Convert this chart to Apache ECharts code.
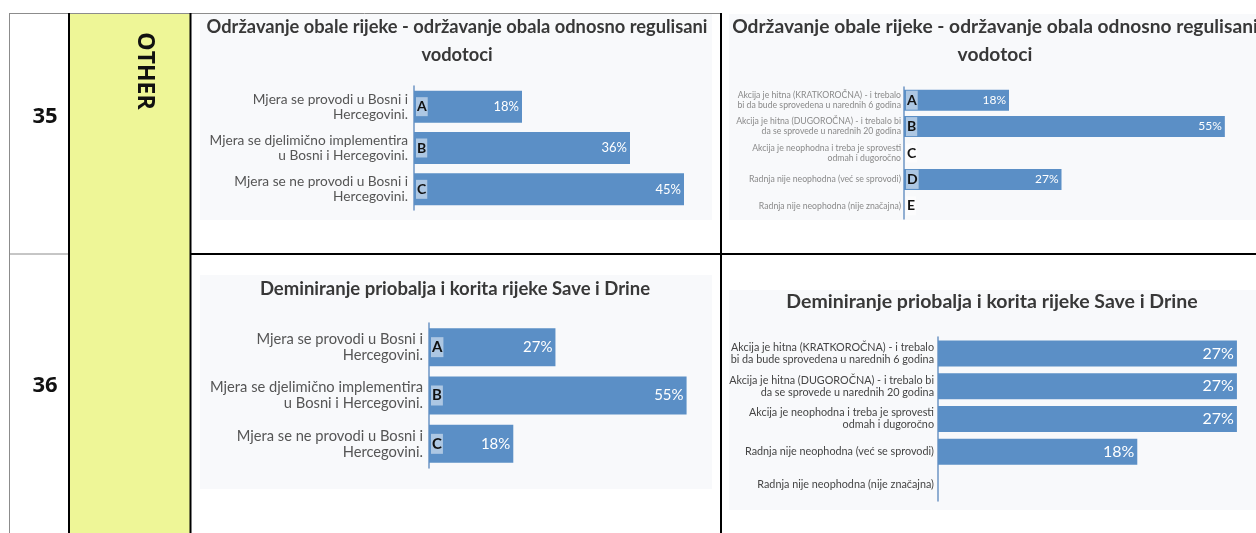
<!DOCTYPE html>
<html>
<head>
<meta charset="utf-8">
<script src="https://cdn.jsdelivr.net/npm/echarts@6/dist/echarts.min.js"></script>
<style>
  html, body { margin: 0; padding: 0; background: #fff; }
  #chart { width: 1256px; height: 533px; }
</style>
</head>
<body>
<div id="chart"></div>
<script>
// podaci — procijenjeno sa slike
const rowNumbers = ['35', '36']
const groupLabel = 'OTHER'

const titleTop = 'Održavanje obale rijeke - održavanje obala odnosno regulisani\nvodotoci'
const titleBottom = 'Deminiranje priobalja i korita rijeke Save i Drine'

const mjeraCategories = [
  'Mjera se provodi u Bosni i\nHercegovini.',
  'Mjera se djelimično implementira\nu Bosni i Hercegovini.',
  'Mjera se ne provodi u Bosni i\nHercegovini.',
]
const mjeraLetters = ['A', 'B', 'C']

const akcijaCategories = [
  'Akcija je hitna (KRATKOROČNA) - i trebalo\nbi da bude sprovedena u narednih 6 godina',
  'Akcija je hitna (DUGOROČNA) - i trebalo bi\nda se sprovede u narednih 20 godina',
  'Akcija je neophodna i treba je sprovesti\nodmah i dugoročno',
  'Radnja nije neophodna (već se sprovodi)',
  'Radnja nije neophodna (nije značajna)',
]
const akcijaLetters = ['A', 'B', 'C', 'D', 'E']

const row35Mjera = [18, 36, 45]
const row35Akcija = [18, 55, 0, 27, 0]
const row36Mjera = [27, 55, 18]
const row36Akcija = [27, 27, 27, 18, 0]

const BAR = '#5b8fc6'
const AXIS = '#6e95c4'
const FONT = 'Lato, "Open Sans", sans-serif'

// one panel = grid + x axis + category axis (+ letter axis) + bar series
const panels = [
  { cats: mjeraCategories, letters: mjeraLetters, values: row35Mjera,
    grid: { left: 414, top: 86, width: 300, height: 124 }, max: 50, barWidth: 32,
    catFont: 13.7, catLine: 15, catColor: '#555', catMargin: 6, valFont: 13, letterFont: 14 },
  { cats: akcijaCategories, letters: akcijaLetters, values: row35Akcija,
    grid: { left: 904, top: 87, width: 350, height: 132 }, max: 60, barWidth: 21,
    catFont: 8.7, catLine: 10, catColor: '#8a8a8a', catMargin: 3, valFont: 12, letterFont: 14 },
  { cats: mjeraCategories, letters: mjeraLetters, values: row36Mjera,
    grid: { left: 429, top: 323, width: 281, height: 145 }, max: 60, barWidth: 38,
    catFont: 14.7, catLine: 16, catColor: '#555', catMargin: 6, valFont: 15, letterFont: 15 },
  { cats: akcijaCategories, letters: null, values: row36Akcija,
    grid: { left: 938, top: 337, width: 310, height: 164 }, max: 28, barWidth: 26,
    catFont: 10.8, catLine: 12, catColor: '#444', catMargin: 4, valFont: 16 },
]

const grid = [], xAxis = [], yAxis = [], series = []
panels.forEach((p, i) => {
  grid.push(p.grid)
  xAxis.push({ type: 'value', gridIndex: i, min: 0, max: p.max, show: false })
  const catIdx = yAxis.length
  yAxis.push({
    type: 'category', gridIndex: i, data: p.cats, inverse: true,
    axisLine: { show: true, lineStyle: { color: AXIS, width: 1.5 } },
    axisTick: { show: false },
    axisLabel: { color: p.catColor, fontSize: p.catFont, lineHeight: p.catLine,
      fontFamily: FONT, margin: p.catMargin, align: 'right' },
  })
  if (p.letters) {
    yAxis.push({
      type: 'category', gridIndex: i, data: p.letters, inverse: true, position: 'left',
      axisLine: { show: false }, axisTick: { show: false }, z: 5,
      axisLabel: { inside: true, margin: 2, color: '#111', fontWeight: 'bold',
        fontSize: p.letterFont, fontFamily: FONT,
        backgroundColor: 'rgba(255,255,255,0.5)', padding: [3, 1, 2, 1] },
    })
  }
  series.push({
    type: 'bar', xAxisIndex: i, yAxisIndex: catIdx, data: p.values,
    barWidth: p.barWidth, itemStyle: { color: BAR }, silent: true,
    label: { show: true, position: 'insideRight', distance: 3, color: '#fff',
      fontSize: p.valFont, fontFamily: FONT,
      formatter: (d) => d.value ? d.value + '%' : '' },
  })
})

const titleStyle = (size) => ({ color: '#383838', fontWeight: 'bold', fontSize: size,
  fontFamily: FONT, lineHeight: 28 })

const titles = [
  { text: titleTop, left: 452, top: 8, textAlign: 'center', textStyle: titleStyle(18.3) },
  { text: titleTop, left: 990, top: 8, textAlign: 'center', textStyle: titleStyle(19.2) },
  { text: titleBottom, left: 450, top: 270, textAlign: 'center', textStyle: titleStyle(18.5) },
  { text: titleBottom, left: 987, top: 283, textAlign: 'center', textStyle: titleStyle(19.5) },
]

const line = (x1, y1, x2, y2, color, w) => ({
  type: 'line', shape: { x1, y1, x2, y2 }, style: { stroke: color, lineWidth: w }, z: 10,
})
const panelBg = (x, y, w, h) => ({
  type: 'rect', shape: { x, y, width: w, height: h }, style: { fill: '#f8f9fb' }, z: -10,
})

const graphic = [
  // yellow group column
  { type: 'rect', shape: { x: 70, y: 13, width: 120, height: 520 }, style: { fill: '#eef697' }, z: -10 },
  panelBg(200, 14, 512, 206),
  panelBg(729, 14, 527, 206),
  panelBg(200, 275, 512, 214),
  panelBg(729, 290, 527, 220),
  // table grid
  line(9, 13.5, 720, 13.5, '#8c8c8c', 1),
  line(9.5, 13, 9.5, 533, '#8c8c8c', 1),
  line(9, 254, 69, 254, '#8c8c8c', 1),
  line(69, 13, 69, 533, '#000', 2),
  line(190.5, 13, 190.5, 533, '#000', 2),
  line(721, 13, 721, 533, '#000', 2),
  line(190, 254, 1256, 254, '#000', 2),
  // row numbers and group label
  { type: 'text', x: 45, y: 117, style: { text: rowNumbers[0], fill: '#111', font: 'bold 22px "Open Sans"',
    align: 'center', verticalAlign: 'middle' }, z: 10 },
  { type: 'text', x: 45, y: 386, style: { text: rowNumbers[1], fill: '#111', font: 'bold 22px "Open Sans"',
    align: 'center', verticalAlign: 'middle' }, z: 10 },
  { type: 'text', x: 145, y: 71, rotation: -Math.PI / 2, style: { text: groupLabel, fill: '#111',
    font: 'bold 23px "Open Sans"', align: 'center', verticalAlign: 'middle' }, z: 10 },
]

const chart = echarts.init(document.getElementById('chart'), null, { renderer: 'canvas' })
chart.setOption({
  backgroundColor: '#fff',
  animation: false,
  title: titles,
  grid, xAxis, yAxis, series, graphic,
})
</script>
</body>
</html>
